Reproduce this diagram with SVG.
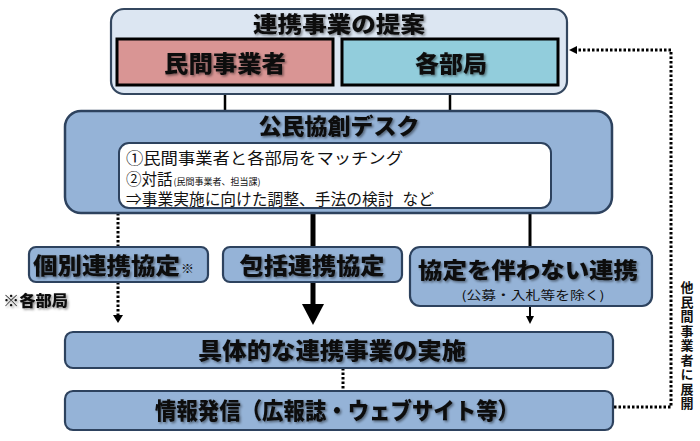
<svg xmlns="http://www.w3.org/2000/svg" width="700" height="441" viewBox="0 0 700 441">
<defs>
<filter id="sh" x="-10%" y="-30%" width="130%" height="170%">
<feDropShadow dx="1.5" dy="1.5" stdDeviation="1.2" flood-color="#000" flood-opacity="0.45"/>
</filter>
</defs>
<style>
text{font-family:"Noto Sans CJK JP","Noto Sans CJK SC",sans-serif;fill:#111;}
.b{font-weight:700;}
.t{font-weight:900;filter:url(#sh);}
.box{fill:#95b3d7;stroke:#2d425e;stroke-width:2.2;}
.solid{stroke:#000;fill:none;}
.dot{stroke:#000;fill:none;stroke-width:3;stroke-dasharray:2.5 2;}
</style>
<rect width="700" height="441" fill="#fff"/>

<g id="connectors">
<line class="solid" x1="225" y1="94" x2="225" y2="112" stroke-width="2.5"/>
<line class="solid" x1="450" y1="94" x2="450" y2="112" stroke-width="2.5"/>
<line class="dot" x1="118" y1="213" x2="118" y2="247"/>
<line class="dot" x1="118" y1="282" x2="118" y2="316"/>
<path d="M113,315 L123,315 L118,323 Z" fill="#000"/>
<line class="solid" x1="313" y1="213" x2="313" y2="247" stroke-width="5"/>
<line class="solid" x1="313" y1="282" x2="313" y2="306" stroke-width="5"/>
<path d="M302,304 L324,304 L313,325 Z" fill="#000"/>
<line class="solid" x1="530" y1="213" x2="530" y2="247" stroke-width="3"/>
<line class="solid" x1="530" y1="306" x2="530" y2="317" stroke-width="2"/>
<path d="M526,316 L534,316 L530,324 Z" fill="#000"/>
<line class="dot" x1="343" y1="368" x2="343" y2="391"/>
<polyline class="dot" points="614,407 671,407 671,50 577,50"/>
<path d="M577,46 L577,54 L569,50 Z" fill="#000"/>
</g>

<g id="proposal">
<rect x="111" y="9" width="456" height="85" rx="13" fill="#dce6f2" stroke="#34475f" stroke-width="2.2"/>
<text class="t" x="339" y="32" font-size="22" text-anchor="middle" textLength="172" lengthAdjust="spacingAndGlyphs">連携事業の提案</text>
</g>
<g id="private">
<rect x="117" y="39" width="216" height="46" fill="#d99594" stroke="#000" stroke-width="3"/>
<text class="t" x="225" y="72" font-size="23" text-anchor="middle" textLength="122" lengthAdjust="spacingAndGlyphs">民間事業者</text>
</g>
<g id="departments">
<rect x="342" y="39" width="216" height="46" fill="#92cddc" stroke="#000" stroke-width="3"/>
<text class="t" x="451" y="72" font-size="23" text-anchor="middle" textLength="72" lengthAdjust="spacingAndGlyphs">各部局</text>
</g>

<g id="desk">
<rect x="65" y="111" width="547" height="102" rx="16" fill="#95b3d7" stroke="#2d425e" stroke-width="2.5"/>
<text class="t" x="339" y="134" font-size="22" text-anchor="middle" textLength="161" lengthAdjust="spacingAndGlyphs">公民協創デスク</text>
<rect x="119" y="143" width="432" height="65" rx="10" fill="#fff" stroke="#2d425e" stroke-width="2"/>
<text x="126" y="164" font-size="15.5" textLength="277" lengthAdjust="spacingAndGlyphs">①民間事業者と各部局をマッチング</text>
<text x="126" y="185" font-size="15.5">②対話<tspan font-size="9" dx="1">(民間事業者、担当課)</tspan></text>
<text x="126" y="205" font-size="15.5" textLength="308" lengthAdjust="spacingAndGlyphs">⇒事業実施に向けた調整、手法の検討<tspan dx="9">など</tspan></text>
</g>

<g id="individual">
<rect class="box" x="29" y="247" width="179" height="35" rx="7"/>
<text class="t" x="33" y="274" font-size="23" textLength="147" lengthAdjust="spacingAndGlyphs">個別連携協定</text>
<text class="b" x="181" y="273" font-size="13">※</text>
</g>
<text class="t" x="3" y="306" font-size="15" textLength="65" lengthAdjust="spacingAndGlyphs">※各部局</text>

<g id="comprehensive">
<rect class="box" x="223" y="247" width="179" height="35" rx="7"/>
<text class="t" x="312" y="274" font-size="23" text-anchor="middle" textLength="145" lengthAdjust="spacingAndGlyphs">包括連携協定</text>
</g>

<g id="nonagreement">
<rect class="box" x="410" y="247" width="242" height="59" rx="10"/>
<text class="t" x="528" y="278" font-size="22" text-anchor="middle" textLength="220" lengthAdjust="spacingAndGlyphs">協定を伴わない連携</text>
<text x="533" y="300" font-size="12" text-anchor="middle" textLength="143" lengthAdjust="spacingAndGlyphs">(公募・入札等を除く)</text>
</g>

<g id="implementation">
<rect class="box" x="65" y="332" width="548" height="36" rx="8"/>
<text class="t" x="332" y="359" font-size="23" text-anchor="middle" textLength="268" lengthAdjust="spacingAndGlyphs">具体的な連携事業の実施</text>
</g>

<g id="publicity">
<rect class="box" x="65" y="391" width="548" height="39" rx="8"/>
<text class="t" x="337" y="419" font-size="23" text-anchor="middle" textLength="364" lengthAdjust="spacingAndGlyphs">情報発信（広報誌・ウェブサイト等）</text>
</g>

<text class="b" x="687" y="281" font-size="13" style="writing-mode:vertical-rl;letter-spacing:1.5px">他民間事業者に展開</text>
</svg>
